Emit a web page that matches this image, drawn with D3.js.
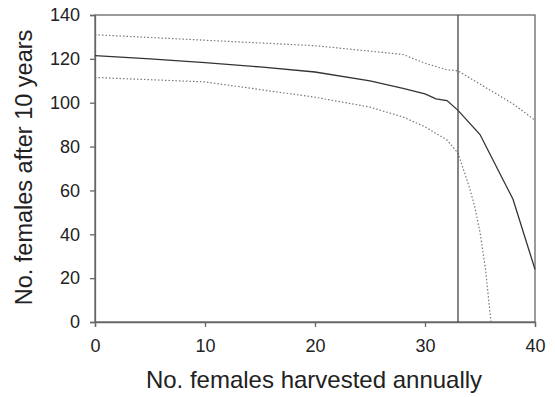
<!DOCTYPE html>
<html><head><meta charset="utf-8">
<script src="https://cdn.jsdelivr.net/npm/d3@7/dist/d3.min.js"></script>
<style>body{margin:0;background:#fff}svg{display:block}text{font-family:"Liberation Sans",Arial,sans-serif;fill:#222}</style>
</head><body><svg id="c" width="555" height="397"></svg>
<script>
const meanX = [0, 5, 10, 15, 20, 25, 28, 30, 31, 32, 33, 35, 38, 40];
const meanY = [121.5, 120, 118.3, 116.3, 114, 110, 106.5, 104, 101.8, 101, 96.5, 85.5, 56, 24];
const upperX = [0, 10, 20, 25, 28, 30, 32, 33, 35, 38, 40];
const upperY = [131, 128.5, 126, 123.5, 122, 118, 115, 114.5, 108.5, 99.5, 92];
const lowerX = [0, 10, 20, 25, 28, 30, 32, 33, 34, 34.5, 35, 35.5, 36];
const lowerY = [111.5, 109.5, 102.5, 98, 93.5, 89, 83, 77, 62, 53, 41, 24, 0];
const xTicks = [0, 10, 20, 30, 40];
const yTicks = [0, 20, 40, 60, 80, 100, 120, 140];
const threshold = 33;
const xTitle = "No. females harvested annually";
const yTitle = "No. females after 10 years";

const svg = d3.select("#c");
const m = {l:95, r:535, t:15, b:322};
const x = d3.scaleLinear().domain([0,40]).range([m.l, m.r]);
const y = d3.scaleLinear().domain([0,140]).range([m.b, m.t]);
const axisCol = "#666";

// frame
svg.append("rect").attr("x", m.l).attr("y", m.t).attr("width", m.r-m.l).attr("height", m.b-m.t)
  .attr("fill","none").attr("stroke", axisCol).attr("stroke-width", 1.3);

const gx = svg.append("g").attr("transform", `translate(0,${m.b})`)
  .call(d3.axisBottom(x).tickValues(xTicks).tickSize(5).tickPadding(12));
const gy = svg.append("g").attr("transform", `translate(${m.l},0)`)
  .call(d3.axisLeft(y).tickValues(yTicks).tickSize(5).tickPadding(10));
[gx, gy].forEach(g => {
  g.select(".domain").attr("stroke", axisCol).attr("stroke-width", 1.3);
  g.selectAll(".tick line").attr("stroke", axisCol).attr("stroke-width", 1.3);
  g.selectAll(".tick text").style("font-size","18px").style("font-family","'Liberation Sans',Arial,sans-serif").attr("fill","#222");
});

const line = d3.line().x(d => x(d[0])).y(d => y(d[1]));
const zip = (a,b) => a.map((v,i) => [v,b[i]]);

svg.append("path").datum(zip(upperX, upperY)).attr("d", line)
  .attr("fill","none").attr("stroke","#777").attr("stroke-width",1.2).attr("stroke-dasharray","1.5,2");
svg.append("path").datum(zip(lowerX, lowerY)).attr("d", line)
  .attr("fill","none").attr("stroke","#777").attr("stroke-width",1.2).attr("stroke-dasharray","1.5,2");
svg.append("path").datum(zip(meanX, meanY)).attr("d", line)
  .attr("fill","none").attr("stroke","#333").attr("stroke-width",1.3);

svg.append("line").attr("x1", x(threshold)).attr("x2", x(threshold)).attr("y1", m.t).attr("y2", m.b)
  .attr("stroke","#444").attr("stroke-width",1.3);

svg.append("text").attr("x", 314).attr("y", 388).attr("text-anchor","middle")
  .style("font-size","24px").text(xTitle);
svg.append("text").attr("transform", `translate(32,167.5) rotate(-90)`).attr("text-anchor","middle")
  .style("font-size","23.5px").text(yTitle);
</script></body></html>
